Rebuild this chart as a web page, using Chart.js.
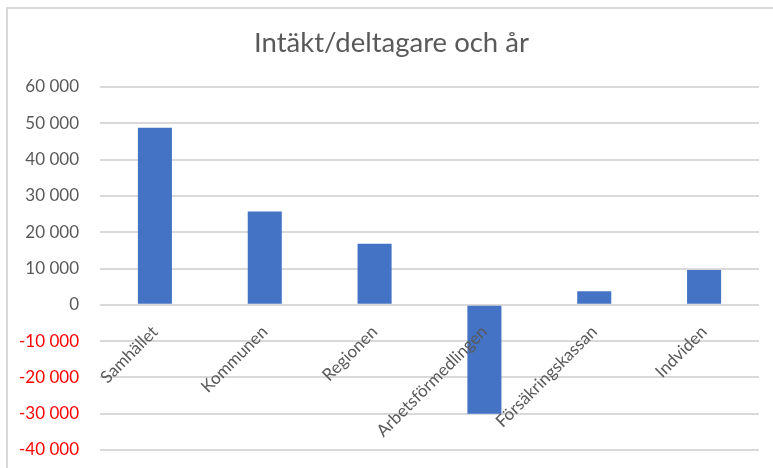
<!DOCTYPE html>
<html>
<head>
<meta charset="utf-8">
<script src="https://cdn.jsdelivr.net/npm/chart.js@4/dist/chart.umd.min.js"></script>
<style>
  html, body { margin: 0; padding: 0; background: #fff; overflow: hidden; }
  #wrap { position: relative; width: 773px; height: 468px; }
  #frame { position: absolute; left: 6px; top: 7px; width: 800px; height: 500px;
           border: 2px solid #d9d9d9; pointer-events: none; }
</style>
</head>
<body>
<div id="wrap">
  <canvas id="myChart" width="773" height="468"></canvas>
  <div id="frame"></div>
</div>
<script>
// data
const categories = ['Samhället', 'Kommunen', 'Regionen', 'Arbetsförmedlingen', 'Försäkringskassan', 'Indviden'];
const values = [48800, 25700, 16800, -30000, 3700, 9600];
const yTicks = [60000, 50000, 40000, 30000, 20000, 10000, 0, -10000, -20000, -30000, -40000];

const fontFamily = 'Lato, "Open Sans", sans-serif';

// "60 000" style
function formatTick(v) {
    const s = String(Math.abs(v)).replace(/\B(?=(\d{3})+(?!\d))/g, ' ');
    return v < 0 ? '-' + s : s;
}

const data = {
    labels: categories,
    datasets: [{
        label: 'Intäkt/deltagare och år',
        backgroundColor: '#4472C4',
        borderColor: '#4472C4',
        data: values,
        barPercentage: 1,
        categoryPercentage: 0.31
    }]
};

const config = {
    type: 'bar',
    data: data,
    options: {
        responsive: false,
        animation: false,
        layout: { padding: { left: 10, right: 0, top: 0, bottom: 18 } },
        plugins: {
            legend: { display: false },
            tooltip: { enabled: false },
            title: {
                display: true,
                text: 'Intäkt/deltagare och år',
                color: '#595959',
                font: { family: fontFamily, size: 27.5, weight: 'normal' },
                padding: { top: 27, bottom: 27 }
            }
        },
        scales: {
            x: {
                position: { y: 0 },
                grid: { display: false },
                border: { display: false },
                ticks: {
                    z: 1,
                    minRotation: 45,
                    maxRotation: 45,
                    padding: 9,
                    color: '#595959',
                    font: { family: fontFamily, size: 17 }
                }
            },
            y: {
                min: -40000,
                max: 60000,
                afterFit: (scale) => { scale.width = 90; },
                afterBuildTicks: (scale) => {
                    scale.ticks = yTicks.map(v => ({ value: v }));
                },
                // invisible tick marks give the gap between labels and plot
                grid: { color: '#d9d9d9', lineWidth: 2, drawTicks: true, tickLength: 21, tickColor: 'rgba(0,0,0,0)' },
                border: { display: false },
                ticks: {
                    padding: 0,
                    color: (ctx) => ctx.tick.value < 0 ? '#ff0000' : '#595959',
                    font: { family: fontFamily, size: 17 },
                    callback: (v) => formatTick(v)
                }
            },
            // empty right axis, only keeps the plot off the right edge
            y2: {
                type: 'linear',
                position: 'right',
                display: true,
                afterFit: (scale) => { scale.width = 14; },
                grid: { display: false },
                border: { display: false },
                ticks: { display: false }
            }
        }
    }
};

// eslint-disable-next-line
const myChart = new Chart(document.getElementById('myChart'), config);
</script>
</body>
</html>
